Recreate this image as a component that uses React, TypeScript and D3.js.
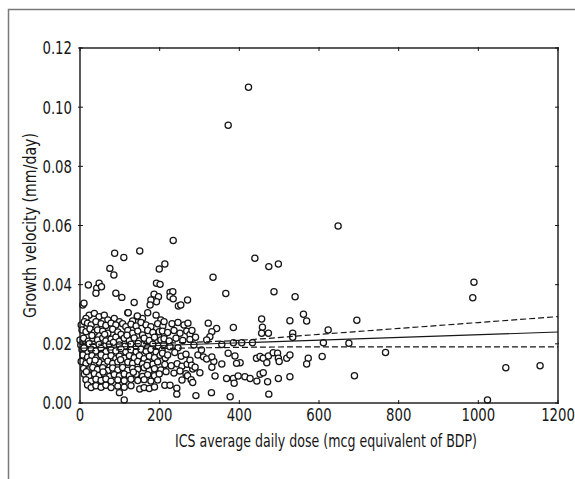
import React from "react";
import * as d3 from "d3";

const X_TICKS = [0, 200, 400, 600, 800, 1000, 1200];
const Y_TICKS = [0, 0.02, 0.04, 0.06, 0.08, 0.1, 0.12];
const X_TITLE = "ICS average daily dose (mcg equivalent of BDP)";
const Y_TITLE = "Growth velocity (mm/day)";

// dense cluster, low doses (dose mcg, growth velocity mm/day)
const densePoints: [number, number][] = [
  [7, 0.0331], [23, 0.0297], [36, 0.0303], [48, 0.0292], [61, 0.0297], [15, 0.0286], [70, 0.0281], [86, 0.0286],
  [120, 0.0305], [144, 0.0292], [170, 0.0305], [99, 0.0275], [191, 0.0297], [203, 0.0281], [132, 0.0277], [157, 0.0286],
  [3, 0.0264], [11, 0.0275], [19, 0.027], [28, 0.0264], [40, 0.0275], [53, 0.0268], [65, 0.0262], [78, 0.027],
  [90, 0.0264], [107, 0.0268], [115, 0.0258], [128, 0.0266], [141, 0.026], [153, 0.0272], [166, 0.0264], [178, 0.0258],
  [195, 0.0268], [208, 0.026],
  [5, 0.0247], [15, 0.0241], [25, 0.025], [36, 0.0238], [44, 0.0247], [57, 0.0243], [70, 0.0236], [82, 0.0249],
  [95, 0.024], [103, 0.0232], [120, 0.0245], [132, 0.0236], [145, 0.0243], [157, 0.023], [170, 0.0245], [183, 0.0238],
  [199, 0.0241], [212, 0.0232],
  [0, 0.0213], [9, 0.0219], [21, 0.0209], [32, 0.0219], [44, 0.0213], [57, 0.022], [65, 0.021], [78, 0.0216],
  [90, 0.0222], [99, 0.0209], [111, 0.0219], [124, 0.0211], [136, 0.022], [149, 0.021], [161, 0.0219], [174, 0.0211],
  [187, 0.0222], [203, 0.0213],
  [2, 0.0196], [13, 0.0192], [23, 0.02], [34, 0.019], [48, 0.0198], [61, 0.0192], [74, 0.0199], [86, 0.0189],
  [99, 0.0196], [113, 0.0192], [128, 0.0199], [141, 0.019], [157, 0.0196], [170, 0.0188], [183, 0.0199], [197, 0.0192],
  [210, 0.0198],
  [5, 0.018], [17, 0.0173], [28, 0.0182], [40, 0.0176], [53, 0.0184], [65, 0.0173], [78, 0.018], [90, 0.0176],
  [103, 0.0183], [115, 0.0172], [128, 0.0179], [141, 0.0173], [153, 0.0182], [166, 0.0175], [178, 0.0181], [191, 0.0172],
  [206, 0.0178],
  [7, 0.0162], [19, 0.0155], [30, 0.016], [42, 0.0152], [53, 0.0162], [65, 0.0155], [78, 0.016], [90, 0.015],
  [99, 0.0158], [111, 0.0151], [124, 0.016], [136, 0.0153], [149, 0.016], [161, 0.015], [174, 0.0158], [187, 0.0153],
  [201, 0.0161], [214, 0.0152],
  [3, 0.014], [15, 0.0134], [25, 0.0142], [36, 0.0132], [48, 0.0138], [61, 0.0131], [70, 0.0141], [82, 0.0134],
  [95, 0.0139], [107, 0.0131], [120, 0.0138], [132, 0.0134], [145, 0.014], [157, 0.0132], [170, 0.0137], [183, 0.0131],
  [195, 0.0139],
  [9, 0.0117], [21, 0.0112], [32, 0.012], [44, 0.0113], [57, 0.0119], [70, 0.011], [82, 0.0118], [95, 0.0112],
  [107, 0.012], [120, 0.0111], [132, 0.0117], [145, 0.0113], [161, 0.0119], [174, 0.011], [187, 0.0116], [203, 0.0112],
  [11, 0.0097], [23, 0.0092], [36, 0.0099], [48, 0.0093], [61, 0.0098], [74, 0.009], [86, 0.0096], [99, 0.0091],
  [111, 0.0098], [124, 0.0092], [141, 0.0097], [157, 0.009], [170, 0.0096], [187, 0.0092], [199, 0.0098],
  [15, 0.0079], [28, 0.0074], [40, 0.008], [53, 0.0076], [65, 0.0081], [78, 0.0074], [95, 0.0078], [111, 0.0075],
  [128, 0.008], [145, 0.0076], [161, 0.0079], [178, 0.0074], [195, 0.0078],
  [19, 0.0061], [28, 0.0052], [40, 0.0058], [53, 0.0053], [65, 0.006], [78, 0.0052], [95, 0.0057], [111, 0.0053],
  [128, 0.0058], [150, 0.0047], [161, 0.0052], [174, 0.0049], [187, 0.0054], [213, 0.006], [226, 0.006],
  [111, 0.001], [99, 0.0035],
  [30, 0.0228], [62, 0.0232], [118, 0.0229], [10, 0.0186], [84, 0.0205], [146, 0.0201], [38, 0.0145],
  [102, 0.0146], [168, 0.0127], [58, 0.0105], [134, 0.0104], [16, 0.0106],
];

// upper fringe of the low-dose cluster
const upperPoints: [number, number][] = [
  [87, 0.0506], [110, 0.0492], [150, 0.0514], [75, 0.0455], [85, 0.0433], [199, 0.0453], [213, 0.047],
  [21, 0.0399], [42, 0.0388], [48, 0.0405], [54, 0.0393], [40, 0.0371], [90, 0.0371], [105, 0.0357], [136, 0.034],
  [121, 0.0305], [144, 0.0294], [192, 0.0405], [201, 0.0401], [186, 0.0368], [197, 0.0359], [192, 0.0342],
  [226, 0.0374], [233, 0.0376], [226, 0.0359], [234, 0.0352], [247, 0.0328], [253, 0.0331], [270, 0.0348],
  [178, 0.0348], [176, 0.0331], [10, 0.0337], [234, 0.0549],
];

// medium doses
const midPoints: [number, number][] = [
  [211, 0.0275], [231, 0.0268], [246, 0.0272], [261, 0.0264], [271, 0.027],
  [207, 0.0243], [220, 0.0238], [236, 0.0245], [251, 0.0236], [268, 0.0243], [276, 0.0232],
  [211, 0.0217], [224, 0.021], [241, 0.0219], [258, 0.0211], [276, 0.0215],
  [226, 0.019], [246, 0.0187],
  [207, 0.0168], [220, 0.0162], [238, 0.0171], [254, 0.0158], [266, 0.0165],
  [213, 0.013], [229, 0.0126], [244, 0.0133], [256, 0.0124], [269, 0.0131],
  [216, 0.0106], [236, 0.0101], [251, 0.0108], [266, 0.0099],
  [243, 0.005], [243, 0.003],
  [281, 0.0245], [290, 0.0222], [286, 0.0196], [296, 0.0162], [276, 0.0145], [283, 0.0115], [270, 0.0092],
  [256, 0.0078], [279, 0.0079],
  [322, 0.027], [343, 0.0252], [331, 0.0241], [326, 0.0224], [318, 0.0213], [385, 0.0255],
  [356, 0.0198], [406, 0.0204], [385, 0.0204], [433, 0.0204], [305, 0.0179],
  [310, 0.0156], [318, 0.0149], [336, 0.014], [331, 0.0156],
  [372, 0.0168], [389, 0.0159], [402, 0.0136], [393, 0.0134],
  [443, 0.0151], [452, 0.0157],
  [280, 0.0128], [289, 0.0121], [301, 0.0102], [331, 0.0121], [356, 0.0132], [339, 0.0091],
  [283, 0.0069], [291, 0.0025], [330, 0.0035], [377, 0.0021],
  [368, 0.0083], [385, 0.0083], [397, 0.0091], [387, 0.0067],
  [334, 0.0425], [366, 0.037],
];

// higher doses
const highPoints: [number, number][] = [
  [439, 0.0489], [474, 0.0461], [498, 0.047], [487, 0.0376], [540, 0.0359],
  [456, 0.0284], [458, 0.0256], [456, 0.0236], [473, 0.0236], [527, 0.0278], [561, 0.03], [569, 0.0277],
  [534, 0.0236], [534, 0.0222], [623, 0.0247], [611, 0.0204],
  [460, 0.0151], [473, 0.0159], [485, 0.017], [496, 0.0168], [498, 0.0151], [469, 0.0136], [500, 0.014],
  [519, 0.0151], [527, 0.0162], [573, 0.0151], [569, 0.0132], [608, 0.0157],
  [414, 0.0089], [427, 0.0083], [444, 0.0074], [452, 0.0097], [460, 0.0102], [471, 0.0072], [498, 0.0083],
  [527, 0.0089], [474, 0.003],
  [695, 0.028], [675, 0.0202], [767, 0.0171], [689, 0.0092],
  [989, 0.0408], [986, 0.0356], [1069, 0.0119], [1155, 0.0126], [1023, 0.001],
  [423, 0.1067], [372, 0.0939], [648, 0.0598],
];

// regression line and 95% confidence band
const fitLine: [number, number][] = [[0, 0.0185], [1200, 0.024]];
const upperBand: [number, number][] = [
  [0, 0.0198], [200, 0.0202], [400, 0.0212], [600, 0.0232], [800, 0.0252], [1000, 0.0272], [1200, 0.0292],
];
const lowerBand: [number, number][] = [
  [0, 0.0175], [200, 0.0184], [400, 0.0188], [600, 0.019], [800, 0.019], [1000, 0.019], [1200, 0.019],
];

const W = 575;
const H = 479;
const L = 80, R = 558, T = 48, B = 403;
const FONT = "'DejaVu Sans Condensed', 'DejaVu Sans', sans-serif";
const SX = 0.82;
const INK = "#161616";

export default function App() {
  const x = d3.scaleLinear().domain([0, 1200]).range([L, R]);
  const y = d3.scaleLinear().domain([0, 0.12]).range([B, T]);
  const line = d3.line<[number, number]>().x((d) => x(d[0])).y((d) => y(d[1]));
  const curve = d3
    .line<[number, number]>()
    .x((d) => x(d[0]))
    .y((d) => y(d[1]))
    .curve(d3.curveMonotoneX);
  const all = [...densePoints, ...upperPoints, ...midPoints, ...highPoints];
  const tl = 3;
  return (
    <svg
      width={W}
      height={H}
      style={{ position: "absolute", left: 0, top: 0, background: "#fff" }}
      fontFamily={FONT}
    >
      <rect x={8.5} y={9.5} width={700} height={600} fill="none" stroke="#7a7a7a" strokeWidth={1.5} />
      {all.map((d, i) => (
        <circle key={i} cx={x(d[0])} cy={y(d[1])} r={3.1} fill="#fff" stroke={INK} strokeWidth={1.25} />
      ))}
      <path d={line(fitLine) || ""} fill="none" stroke={INK} strokeWidth={1.1} />
      <path d={curve(upperBand) || ""} fill="none" stroke={INK} strokeWidth={1.2} strokeDasharray="6,3" />
      <path d={curve(lowerBand) || ""} fill="none" stroke={INK} strokeWidth={1.2} strokeDasharray="6,3" />
      <rect x={L} y={T} width={R - L} height={B - T} fill="none" stroke={INK} strokeWidth={1.4} />
      {X_TICKS.map((t) => (
        <g key={"x" + t}>
          <line x1={x(t)} x2={x(t)} y1={B - tl} y2={B + 1} stroke={INK} strokeWidth={1} />
          <line x1={x(t)} x2={x(t)} y1={T - 1} y2={T + tl} stroke={INK} strokeWidth={1} />
          <text
            transform={`translate(${x(t)},421) scale(${SX},1)`}
            textAnchor="middle"
            fontSize={18}
            fill={INK}
          >
            {d3.format("d")(t)}
          </text>
        </g>
      ))}
      {Y_TICKS.map((t) => (
        <g key={"y" + t}>
          <line x1={L - 2} x2={L + tl} y1={y(t)} y2={y(t)} stroke={INK} strokeWidth={1} />
          <line x1={R - tl} x2={R + 1} y1={y(t)} y2={y(t)} stroke={INK} strokeWidth={1} />
          <text
            transform={`translate(72,${y(t)}) scale(${SX},1)`}
            dy="0.36em"
            textAnchor="end"
            fontSize={18}
            fill={INK}
          >
            {d3.format(".2f")(t)}
          </text>
        </g>
      ))}
      <text x={326} y={447} textAnchor="middle" fontSize={18} fill={INK} textLength={302} lengthAdjust="spacingAndGlyphs">
        {X_TITLE}
      </text>
      <text
        transform={`translate(36,${(T + B) / 2}) rotate(-90)`}
        textAnchor="middle"
        fontSize={18}
        fill={INK}
        textLength={185}
        lengthAdjust="spacingAndGlyphs"
      >
        {Y_TITLE}
      </text>
    </svg>
  );
}
